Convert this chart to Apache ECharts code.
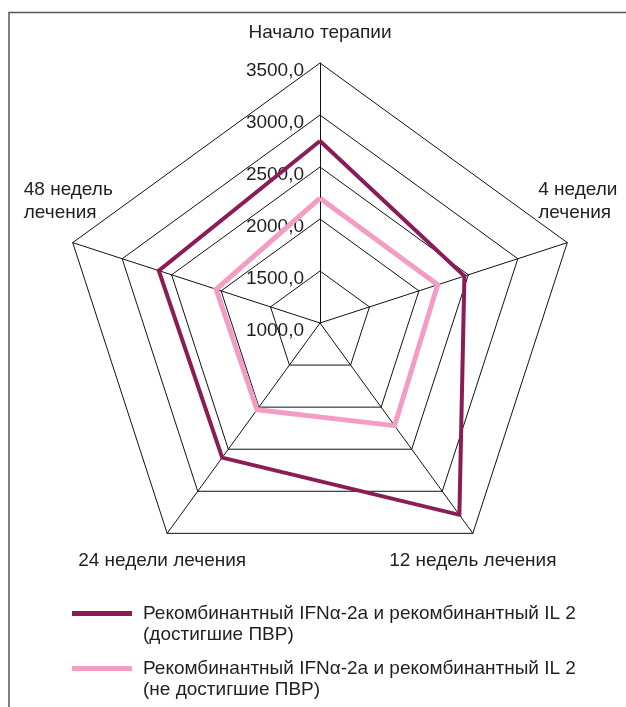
<!DOCTYPE html>
<html>
<head>
<meta charset="utf-8">
<script src="https://cdn.jsdelivr.net/npm/echarts@6/dist/echarts.min.js"></script>
<style>
html,body{margin:0;padding:0;background:#fff}
#chart{width:626px;height:707px}
</style>
</head>
<body>
<div id="chart"></div>
<script>
// Indicators, counter-clockwise starting at the top
const axisNames = ['Начало терапии', '48 недель\nлечения', '24 недели лечения', '12 недель лечения', '4 недели\nлечения'];
const seriesNames = [
  'Рекомбинантный IFNα-2а и рекомбинантный IL 2\n(достигшие ПВР)',
  'Рекомбинантный IFNα-2а и рекомбинантный IL 2\n(не достигшие ПВР)'
];
const achieved = [2750, 2630, 2600, 3280, 2460];
const notAchieved = [2200, 2050, 2030, 2220, 2190];
const valueMin = 1000;
const valueMax = 3500;
const valueStep = 500;

const CX = 320, CY = 323, R = 260;
const FONT = "'Liberation Sans', Arial, sans-serif";
const FS = 19;
const INK = '#231f20';
const DARK = '#8b1c55';
const PINK = '#f39dc5';

// label offsets relative to each outer vertex
const nameLayout = [
  { dx: 0, dy: -30, align: 'center' },
  { dx: -49, dy: -41, align: 'left' },
  { dx: -5, dy: 27, align: 'center' },
  { dx: 0, dy: 27, align: 'center' },
  { dx: -29, dy: -41, align: 'left' }
];

const nameGraphics = axisNames.map(function (name, i) {
  const a = (90 + i * 360 / axisNames.length) * Math.PI / 180;
  const vx = CX + R * Math.cos(a);
  const vy = CY - R * Math.sin(a);
  const l = nameLayout[i];
  return {
    type: 'text',
    x: vx + l.dx,
    y: vy + l.dy,
    style: {
      text: name,
      fill: INK,
      font: FS + 'px ' + FONT,
      align: l.align,
      verticalAlign: 'middle',
      lineHeight: 23
    }
  };
});

function legendFor(name, top) {
  return {
    data: [name],
    left: 67,
    top: top,
    icon: 'rect',
    itemWidth: 60,
    itemHeight: 5,
    selectedMode: false,
    // leading blank line keeps the first text line level with the swatch
    formatter: function (n) { return '\n' + n; },
    textStyle: { color: INK, fontSize: FS, fontFamily: FONT, lineHeight: 21, padding: [0, 0, 0, 6] }
  };
}

const chart = echarts.init(document.getElementById('chart'), null, { renderer: 'canvas' });

chart.setOption({
  backgroundColor: '#fff',
  animation: false,
  radar: {
    center: [CX, CY],
    radius: R,
    startAngle: 90,
    shape: 'polygon',
    splitNumber: (valueMax - valueMin) / valueStep,
    indicator: axisNames.map(function (n) { return { name: n, min: valueMin, max: valueMax }; }),
    axisName: { show: false },
    axisLine: { lineStyle: { color: '#111', width: 1 } },
    splitLine: { lineStyle: { color: '#111', width: 1 } },
    splitArea: { show: false },
    axisTick: { show: false },
    axisLabel: { show: false }
  },
  // value scale shown along the top axis
  grid: { left: CX, width: 1, top: CY - R, height: R },
  xAxis: { type: 'value', show: false },
  yAxis: {
    type: 'value',
    min: valueMin,
    max: valueMax,
    interval: valueStep,
    axisLine: { show: false },
    axisTick: { show: false },
    splitLine: { show: false },
    axisLabel: {
      margin: 16,
      color: INK,
      fontSize: FS,
      fontFamily: FONT,
      verticalAlign: 'top',
      lineHeight: 15,
      formatter: function (v) { return v.toFixed(1).replace('.', ','); }
    }
  },
  legend: [legendFor(seriesNames[0], 577), legendFor(seriesNames[1], 632)],
  graphic: [
    {
      // open frame: left and top edges only
      type: 'polyline',
      shape: { points: [[9, 720], [9, 12.5], [640, 12.5]] },
      style: { fill: null, stroke: '#555', lineWidth: 1.5 },
      silent: true
    }
  ].concat(nameGraphics),
  series: [
    {
      type: 'radar',
      symbol: 'none',
      data: [
        { name: seriesNames[1], value: notAchieved, lineStyle: { color: PINK, width: 5, join: 'miter' }, itemStyle: { color: PINK } },
        { name: seriesNames[0], value: achieved, lineStyle: { color: DARK, width: 4, join: 'miter' }, itemStyle: { color: DARK } }
      ]
    }
  ]
});
</script>
</body>
</html>
